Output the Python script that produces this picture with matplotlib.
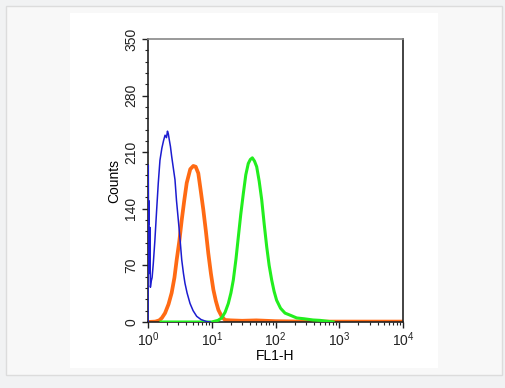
import matplotlib
matplotlib.use("Agg")
import matplotlib.pyplot as plt
from matplotlib.patches import Rectangle
from matplotlib.ticker import MultipleLocator, LogLocator, LogFormatterMathtext, NullFormatter

plt.rcParams['font.family'] = ['Liberation Sans', 'DejaVu Sans']
plt.rcParams['mathtext.fontset'] = 'custom'
plt.rcParams['mathtext.rm'] = 'Liberation Sans'
plt.rcParams['mathtext.it'] = 'Liberation Sans'

# histogram traces (FL1-H value, counts)
blue_x = [1.00, 1.005, 1.01, 1.02, 1.03, 1.05, 1.07, 1.09, 1.12, 1.16, 1.21, 1.28, 1.37,
          1.45, 1.54, 1.65, 1.75, 1.85, 1.95, 2.02, 2.08, 2.15, 2.25, 2.35, 2.5, 2.65,
          2.8, 2.99, 3.2, 3.38, 3.6, 3.8, 4.1, 4.56, 5.1, 5.81, 6.8, 8.33, 9.5]
blue_y = [0, 150, 194, 120, 150, 60, 117, 43, 50, 55, 72, 100, 140,
          172, 200, 215, 224, 231, 228, 236, 233, 226, 217, 205, 190, 176,
          150, 126, 100, 77, 60, 48, 36, 23, 14, 7, 3, 0.5, 0]

orange_x = [1.0, 1.3, 1.5, 1.65, 1.85, 2.1, 2.35, 2.6, 2.82, 3.1, 3.38, 3.7, 4.05, 4.6,
            5.14, 5.6, 6.15, 6.7, 7.37, 8.1, 8.83, 9.7, 10.6, 11.6, 12.7, 14.3, 16.1,
            20, 30, 50, 100, 300, 1000, 3000, 10000]
orange_y = [0, 0.5, 2, 5, 11, 22, 36, 55, 77, 100, 126, 150, 172, 189,
            193, 192, 184, 163, 139, 112, 85, 60, 40, 26, 15, 7, 2.5,
            2, 1.5, 2, 1, 0.5, 0.5, 0.5, 0.5]

green_x = [1.6, 5, 10, 12.5, 14.3, 16.2, 18.2, 20, 21.8, 24, 26.1, 28.5, 31.3, 34.2,
           37.4, 40.3, 43.3, 46.8, 50.7, 55.5, 60.8, 66.5, 72.8, 79.5, 87.1, 95, 104,
           120, 141, 175, 215, 280, 388, 500, 716, 800]
green_y = [0, 0, 0, 2, 5, 12, 23, 36, 52, 78, 105, 133, 159, 182,
           196, 201, 203, 199, 192, 174, 151, 121, 93, 70, 52, 38, 27,
           17, 11, 8, 5, 4, 2.5, 2, 0.5, 0]

y_ticks = [0, 70, 140, 210, 280, 350]

W, H = 505, 388
fig = plt.figure(figsize=(W / 100, H / 100), dpi=100, facecolor='#f1f2f3')

# page frame and white image area
fig.patches.append(Rectangle((6 / W, (H - 375) / H), 496 / W, 369 / H,
                             transform=fig.transFigure, facecolor='#f8f8f8',
                             edgecolor='#dcdcdc', lw=1, zorder=-10))
fig.patches.append(Rectangle((70 / W, (H - 368) / H), 368 / W, 355 / H,
                             transform=fig.transFigure, facecolor='white',
                             edgecolor='none', zorder=-9))

ax = fig.add_axes([148 / W, (H - 322) / H, 255 / W, 283 / H])
ax.set_facecolor('white')

ax.plot(orange_x, orange_y, color='#ff6a14', lw=2.7, zorder=2)
ax.plot(green_x, green_y, color='#22ee1e', lw=2.2, zorder=3)
ax.plot(blue_x, blue_y, color='#1c1cd0', lw=1.1, zorder=4)

ax.set_xscale('log')
ax.set_xlim(1, 10000)
ax.set_ylim(0, 350)
ax.set_yticks(y_ticks)
ax.yaxis.set_minor_locator(MultipleLocator(14))
ax.xaxis.set_major_locator(LogLocator(base=10))
ax.xaxis.set_minor_locator(LogLocator(base=10, subs=range(2, 10)))
ax.xaxis.set_major_formatter(LogFormatterMathtext())
ax.xaxis.set_minor_formatter(NullFormatter())

for lbl in ax.get_yticklabels():
    lbl.set_rotation(90)
    lbl.set_va('center')

ax.tick_params(axis='both', which='major', direction='out', length=4, width=1,
               labelsize=10, colors='#222222')
ax.tick_params(axis='both', which='minor', direction='out', length=2.5, width=0.8,
               colors='#222222')
ax.tick_params(axis='y', pad=3)
ax.tick_params(axis='x', pad=2)

for side in ['left', 'bottom', 'right']:
    ax.spines[side].set_color('#222222')
    ax.spines[side].set_linewidth(1.2)
ax.spines['top'].set_color('#888888')
ax.spines['top'].set_linewidth(1.2)

ax.set_ylabel('Counts', fontsize=10, labelpad=2)
ax.set_xlabel('FL1-H', fontsize=10, labelpad=0)

fig.savefig('out.png', dpi=100, facecolor=fig.get_facecolor())
